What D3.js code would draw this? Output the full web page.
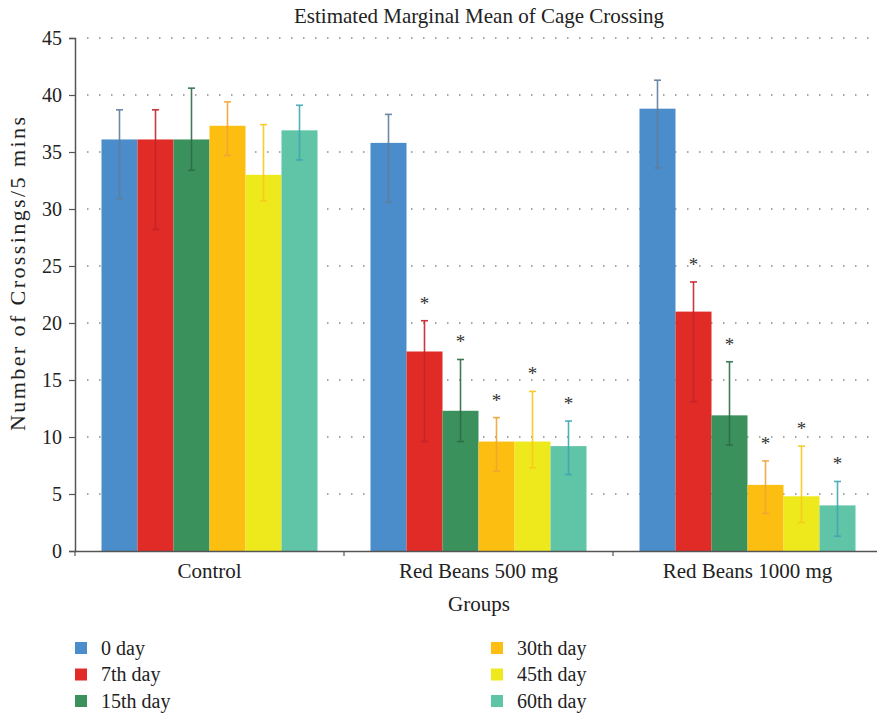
<!DOCTYPE html>
<html>
<head>
<meta charset="utf-8">
<script src="https://cdn.jsdelivr.net/npm/d3@7/dist/d3.min.js"></script>
<style>
  body { margin: 0; background: #fff; }
  svg, svg text { font-family: "Liberation Serif", "DejaVu Serif", "Times New Roman", Times, serif !important; }
  svg { display: block; }
</style>
</head>
<body>
<svg id="chart" width="877" height="714"></svg>
<script>
// Groups on the x axis and the measurement days drawn as bars
const groups = ["Control", "Red Beans 500 mg", "Red Beans 1000 mg"];
const days = ["0 day", "7th day", "15th day", "30th day", "45th day", "60th day"];
const colors = ["#4a8dca", "#e02b27", "#3a915c", "#fcbf11", "#eee91d", "#60c4a7"];
const errColors = ["#5f7d9c", "#c4222b", "#2d6b47", "#f3a336", "#f7c81a", "#3da6b3"];

// Mean crossings per day, one value per group
const mean0 = [36.1, 35.8, 38.8];
const mean7 = [36.1, 17.5, 21.0];
const mean15 = [36.1, 12.3, 11.9];
const mean30 = [37.3, 9.6, 5.8];
const mean45 = [33.0, 9.6, 4.8];
const mean60 = [36.9, 9.2, 4.0];

// Error bar upper and lower limits
const upper0 = [38.7, 38.3, 41.3];
const lower0 = [30.9, 30.6, 33.6];
const upper7 = [38.7, 20.2, 23.6];
const lower7 = [28.2, 9.6, 13.1];
const upper15 = [40.6, 16.8, 16.6];
const lower15 = [33.4, 9.6, 9.3];
const upper30 = [39.4, 11.7, 7.9];
const lower30 = [34.7, 7.0, 3.3];
const upper45 = [37.4, 14.0, 9.2];
const lower45 = [30.7, 7.3, 2.5];
const upper60 = [39.1, 11.4, 6.1];
const lower60 = [34.3, 6.7, 1.3];

// Significance flags (asterisk above the error bar)
const sig0 = [false, false, false];
const sig7 = [false, true, true];
const sig15 = [false, true, true];
const sig30 = [false, true, true];
const sig45 = [false, true, true];
const sig60 = [false, true, true];

const yTicks = [0, 5, 10, 15, 20, 25, 30, 35, 40, 45];

const means = [mean0, mean7, mean15, mean30, mean45, mean60];
const uppers = [upper0, upper7, upper15, upper30, upper45, upper60];
const lowers = [lower0, lower7, lower15, lower30, lower45, lower60];
const sigs = [sig0, sig7, sig15, sig30, sig45, sig60];

const rows = [];
groups.forEach((g, gi) => {
  days.forEach((d, di) => {
    rows.push({
      group: g, day: d, di,
      value: means[di][gi], hi: uppers[di][gi], lo: lowers[di][gi], sig: sigs[di][gi]
    });
  });
});

const svg = d3.select("#chart");
const plotL = 75, plotR = 882, plotT = 38, plotB = 551;

const x0 = d3.scaleBand().domain(groups).range([plotL, plotR]).padding(0);
const x1 = d3.scaleBand().domain(days)
  .range([26.5, x0.bandwidth() - 26.5]).padding(0);
const y = d3.scaleLinear().domain([0, 45]).range([plotB, plotT]);

// Dotted horizontal gridlines
svg.append("g").selectAll("line")
  .data(yTicks.filter(t => t > 0))
  .join("line")
  .attr("x1", plotL + 12).attr("x2", 877)
  .attr("y1", d => y(d)).attr("y2", d => y(d))
  .attr("stroke", "#8a8a8a")
  .attr("stroke-width", 1.5)
  .attr("stroke-dasharray", "1.5,10.5");

// Bars
svg.append("g").selectAll("rect")
  .data(rows)
  .join("rect")
  .attr("x", d => x0(d.group) + x1(d.day))
  .attr("width", x1.bandwidth())
  .attr("y", d => y(d.value))
  .attr("height", d => y(0) - y(d.value))
  .attr("fill", d => colors[d.di]);

// Error bars
const eb = svg.append("g").selectAll("g")
  .data(rows)
  .join("g")
  .attr("stroke", d => errColors[d.di])
  .attr("stroke-width", 1.6)
  .attr("stroke-opacity", 0.9);
const cx = d => x0(d.group) + x1(d.day) + x1.bandwidth() / 2;
eb.append("line")
  .attr("x1", cx).attr("x2", cx)
  .attr("y1", d => y(d.hi)).attr("y2", d => y(d.lo));
eb.append("line")
  .attr("x1", d => cx(d) - 3.5).attr("x2", d => cx(d) + 3.5)
  .attr("y1", d => y(d.hi)).attr("y2", d => y(d.hi));
eb.append("line")
  .attr("x1", d => cx(d) - 3.5).attr("x2", d => cx(d) + 3.5)
  .attr("y1", d => y(d.lo)).attr("y2", d => y(d.lo));

// Significance asterisks
svg.append("g").selectAll("text")
  .data(rows.filter(d => d.sig))
  .join("text")
  .attr("x", cx)
  .attr("y", d => y(d.hi) - 20 + 9)
  .attr("text-anchor", "middle")
  .attr("font-size", 19)
  .attr("fill", "#333")
  .text("*");

// Y axis
const yAxis = svg.append("g")
  .attr("transform", `translate(${plotL},0)`)
  .call(d3.axisLeft(y).tickValues(yTicks).tickSize(6).tickPadding(7));
yAxis.select(".domain").attr("stroke", "#555").attr("stroke-width", 1.5);
yAxis.selectAll(".tick line").attr("stroke", "#555").attr("stroke-width", 1.2);
yAxis.selectAll("text").attr("font-size", 20).attr("fill", "#222");

// X axis
const xAxis = svg.append("g")
  .attr("transform", `translate(0,${plotB})`)
  .call(d3.axisBottom(x0).tickSize(0).tickPadding(12));
xAxis.select(".domain").attr("stroke", "#555").attr("stroke-width", 1.5);
xAxis.selectAll("text").attr("font-size", 21).attr("fill", "#222");
// Tick marks at the group boundaries
svg.append("g").selectAll("line")
  .data(groups.map(g => x0(g)).concat([x0(groups[2]) + x0.bandwidth()]))
  .join("line")
  .attr("x1", d => d).attr("x2", d => d)
  .attr("y1", plotB).attr("y2", plotB + 5)
  .attr("stroke", "#555").attr("stroke-width", 1.2);

// Titles
svg.append("text")
  .attr("x", 479).attr("y", 23)
  .attr("text-anchor", "middle")
  .attr("font-size", 21).attr("fill", "#222")
  .text("Estimated Marginal Mean of Cage Crossing");

svg.append("text")
  .attr("x", 479).attr("y", 611)
  .attr("text-anchor", "middle")
  .attr("font-size", 21).attr("fill", "#222")
  .text("Groups");

svg.append("text")
  .attr("transform", "translate(25,274) rotate(-90)")
  .attr("text-anchor", "middle")
  .attr("font-size", 22).attr("fill", "#222")
  .attr("textLength", 314)
  .attr("lengthAdjust", "spacing")
  .text("Number of Crossings/5 mins");

// Legend in two columns
const legend = svg.append("g").selectAll("g")
  .data(days)
  .join("g")
  .attr("transform", (d, i) => `translate(${i < 3 ? 75 : 491},${648 + (i % 3) * 26.5})`);
legend.append("rect")
  .attr("x", 0).attr("y", -6)
  .attr("width", 12).attr("height", 12)
  .attr("fill", (d, i) => colors[i]);
legend.append("text")
  .attr("x", 26).attr("y", 6.5)
  .attr("font-size", 20).attr("fill", "#222")
  .text(d => d);
</script>
</body>
</html>
